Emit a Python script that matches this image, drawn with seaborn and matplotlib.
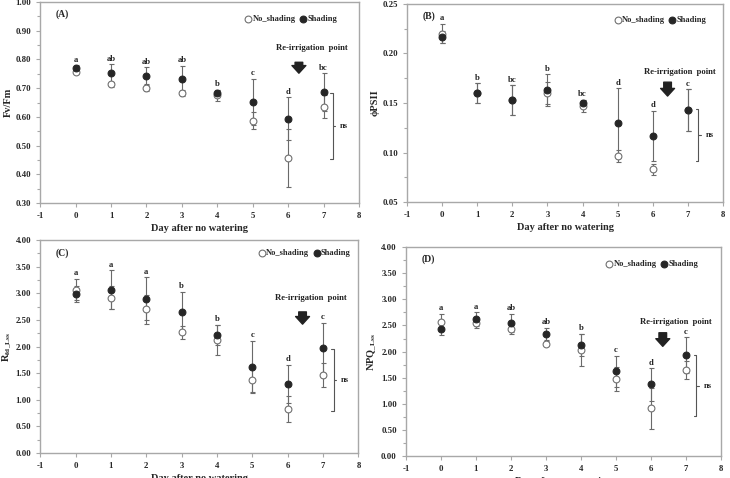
import matplotlib
matplotlib.use('Agg')
from matplotlib import pyplot as plt
from matplotlib.ticker import AutoMinorLocator, FormatStrFormatter
import pandas as pd
import seaborn as sns

days = [0, 1, 2, 3, 4, 5, 6, 7]

# (A) Fv/Fm
fvfm_no = [0.755, 0.713, 0.700, 0.683, 0.675, 0.587, 0.457, 0.636]
fvfm_no_err = [0.005, 0.010, 0.010, 0.010, 0.020, 0.030, 0.100, 0.040]
fvfm_sh = [0.770, 0.753, 0.743, 0.733, 0.683, 0.653, 0.593, 0.686]
fvfm_sh_err = [0.010, 0.030, 0.030, 0.045, 0.010, 0.080, 0.075, 0.065]
fvfm_letters = ['a', 'ab', 'ab', 'ab', 'b', 'c', 'd', 'bc']

# (B) phiPSII
psii_no = [0.220, 0.160, 0.153, 0.160, 0.147, 0.097, 0.083, 0.143]
psii_no_err = [0.010, 0.010, 0.015, 0.011, 0.006, 0.006, 0.006, 0.021]
psii_sh = [0.217, 0.160, 0.153, 0.163, 0.150, 0.130, 0.117, 0.143]
psii_sh_err = [0.006, 0.010, 0.015, 0.016, 0.003, 0.035, 0.025, 0.021]
psii_letters = ['a', 'b', 'bc', 'b', 'bc', 'd', 'd', 'c']

# (C) Rfd_Lss
rfd_no = [3.07, 2.92, 2.70, 2.27, 2.12, 1.37, 0.83, 1.47]
rfd_no_err = [0.20, 0.21, 0.27, 0.12, 0.28, 0.22, 0.24, 0.22]
rfd_sh = [2.99, 3.07, 2.90, 2.65, 2.22, 1.62, 1.30, 1.97]
rfd_sh_err = [0.15, 0.36, 0.40, 0.37, 0.19, 0.49, 0.36, 0.47]
rfd_letters = ['a', 'a', 'a', 'b', 'b', 'c', 'd', 'c']

# (D) NPQ_Lss
npq_no = [2.57, 2.54, 2.43, 2.15, 2.03, 1.47, 0.91, 1.64]
npq_no_err = [0.15, 0.08, 0.09, 0.05, 0.31, 0.23, 0.39, 0.17]
npq_sh = [2.43, 2.62, 2.55, 2.34, 2.12, 1.62, 1.37, 1.93]
npq_sh_err = [0.11, 0.13, 0.17, 0.12, 0.21, 0.30, 0.31, 0.34]
npq_letters = ['a', 'a', 'ab', 'ab', 'b', 'c', 'd', 'c']

sns.set_style('ticks')
plt.rcParams['font.family'] = ['Liberation Serif', 'DejaVu Serif']
plt.rcParams['font.weight'] = 'bold'
plt.rcParams['axes.unicode_minus'] = False
plt.rcParams['mathtext.fontset'] = 'custom'
plt.rcParams['mathtext.rm'] = 'Liberation Serif:bold'
plt.rcParams['mathtext.it'] = 'Liberation Serif:bold'
plt.rcParams['mathtext.bf'] = 'Liberation Serif:bold'

spine_col = '#a8a8a8'
bar_col = '#6a6a6a'

panels = [
    dict(tag='(A)', ylabel='Fv/Fm', no=fvfm_no, no_err=fvfm_no_err, sh=fvfm_sh, sh_err=fvfm_sh_err,
         letters=fvfm_letters, ylim=(0.30, 1.00), step=0.10, pos=[0.055, 0.575, 0.437, 0.421],
         arrow=(6.3, 0.79, 0.752), text=(6.67, 0.84), br=(7.25, 0.683, 0.453),
         leg=(0.785, 0.915)),
    dict(tag='(B)', ylabel='ϕPSII', no=psii_no, no_err=psii_no_err, sh=psii_sh, sh_err=psii_sh_err,
         letters=psii_letters, ylim=(0.05, 0.25), step=0.05, pos=[0.5575, 0.577, 0.433, 0.415],
         arrow=(6.42, 0.171, 0.157), text=(6.78, 0.181), br=(7.29, 0.144, 0.092),
         leg=(0.80, 0.92)),
    dict(tag='(C)', ylabel=r'R$_{\mathrm{fd\_Lss}}$', no=rfd_no, no_err=rfd_no_err, sh=rfd_sh, sh_err=rfd_sh_err,
         letters=rfd_letters, ylim=(0.0, 4.0), step=0.5, pos=[0.055, 0.052, 0.436, 0.446],
         arrow=(6.42, 2.65, 2.42), text=(6.66, 2.91), br=(7.3, 1.95, 0.79),
         leg=(0.83, 0.94)),
    dict(tag='(D)', ylabel=r'NPQ$_{\mathrm{\_Lss}}$', no=npq_no, no_err=npq_no_err, sh=npq_sh, sh_err=npq_sh_err,
         letters=npq_letters, ylim=(0.0, 4.0), step=0.5, pos=[0.556, 0.046, 0.4315, 0.437],
         arrow=(6.34, 2.36, 2.10), text=(6.7, 2.56), br=(7.3, 1.93, 0.77),
         leg=(0.78, 0.92)),
]

fig = plt.figure(figsize=(7.3, 4.78), dpi=100)

for p in panels:
    ax = fig.add_axes(p['pos'])
    df = pd.DataFrame({'day': days, 'no': p['no'], 'no_err': p['no_err'],
                       'sh': p['sh'], 'sh_err': p['sh_err']})

    ax.errorbar(df['day'], df['no'], yerr=df['no_err'], fmt='none', ecolor=bar_col,
                elinewidth=0.8, capsize=1.8, capthick=0.8, zorder=1)
    ax.errorbar(df['day'], df['sh'], yerr=df['sh_err'], fmt='none', ecolor=bar_col,
                elinewidth=0.8, capsize=1.8, capthick=0.8, zorder=1)
    sns.scatterplot(data=df, x='day', y='no', ax=ax, s=24, facecolor='white',
                    edgecolor='#707070', linewidth=0.8, label='No_shading', zorder=3)
    sns.scatterplot(data=df, x='day', y='sh', ax=ax, s=24, color='#262626',
                    edgecolor='#262626', linewidth=0.8, label='Shading', zorder=4)

    lo, hi = p['ylim']
    rng = hi - lo
    for d, v1, e1, v2, e2, lt in zip(days, p['no'], p['no_err'], p['sh'], p['sh_err'], p['letters']):
        top = max(v1 + e1, v2 + e2)
        ax.text(d, top + 0.008 * rng, lt, ha='center', va='bottom', fontsize=6.2,
                fontweight='bold', color='#222222')

    # re-irrigation arrow and label
    ax_x, a_top, a_bot = p['arrow']
    ax.annotate('', xy=(ax_x, a_bot), xytext=(ax_x, a_top),
                arrowprops=dict(arrowstyle='simple,head_length=0.55,head_width=1.0,tail_width=0.55',
                                color='#222222', shrinkA=0, shrinkB=0))
    ax.text(p['text'][0], p['text'][1], 'Re-irrigation  point', ha='center', va='center',
            fontsize=6.2, fontweight='bold', color='#222222')

    # "ns" bracket
    bx, btop, bbot = p['br']
    tk = 0.07
    ax.plot([bx - tk, bx, bx, bx - tk], [btop, btop, bbot, bbot], color='#555555', lw=0.8)
    bmid = (btop + bbot) / 2
    ax.plot([bx, bx + tk], [bmid, bmid], color='#555555', lw=0.8)
    ax.text(bx + 0.32, bmid, 'ns', ha='center', va='center', fontsize=6, fontweight='bold')

    ax.text(0.05, 0.94, p['tag'], transform=ax.transAxes, ha='left', va='center',
            fontsize=7, fontweight='bold')

    ax.set_xlim(-1, 8)
    ax.set_xticks(range(-1, 9))
    ax.set_ylim(lo, hi)
    n = int(round(rng / p['step']))
    ax.set_yticks([lo + i * p['step'] for i in range(n + 1)])
    ax.yaxis.set_major_formatter(FormatStrFormatter('%.2f'))
    ax.yaxis.set_minor_locator(AutoMinorLocator(2))
    ax.tick_params(axis='both', which='both', direction='out', labelsize=6.3,
                   color=spine_col, width=0.8)
    ax.tick_params(axis='both', which='major', length=3)
    ax.tick_params(axis='y', which='minor', length=2)
    for lab in ax.get_xticklabels() + ax.get_yticklabels():
        lab.set_fontweight('bold')
    for sp in ax.spines.values():
        sp.set_visible(True)
        sp.set_color(spine_col)
        sp.set_linewidth(1.0)

    ax.set_xlabel('Day after no watering', fontsize=7.5, fontweight='bold', labelpad=3)
    ax.set_ylabel(p['ylabel'], fontsize=7.5, fontweight='bold', labelpad=2)

    ax.legend(loc='center', bbox_to_anchor=p['leg'], ncol=2, frameon=False, fontsize=6,
              handletextpad=0.0, columnspacing=0.4, borderaxespad=0, markerscale=1.0,
              handlelength=1.0)

fig.savefig('out.png', dpi=100)
